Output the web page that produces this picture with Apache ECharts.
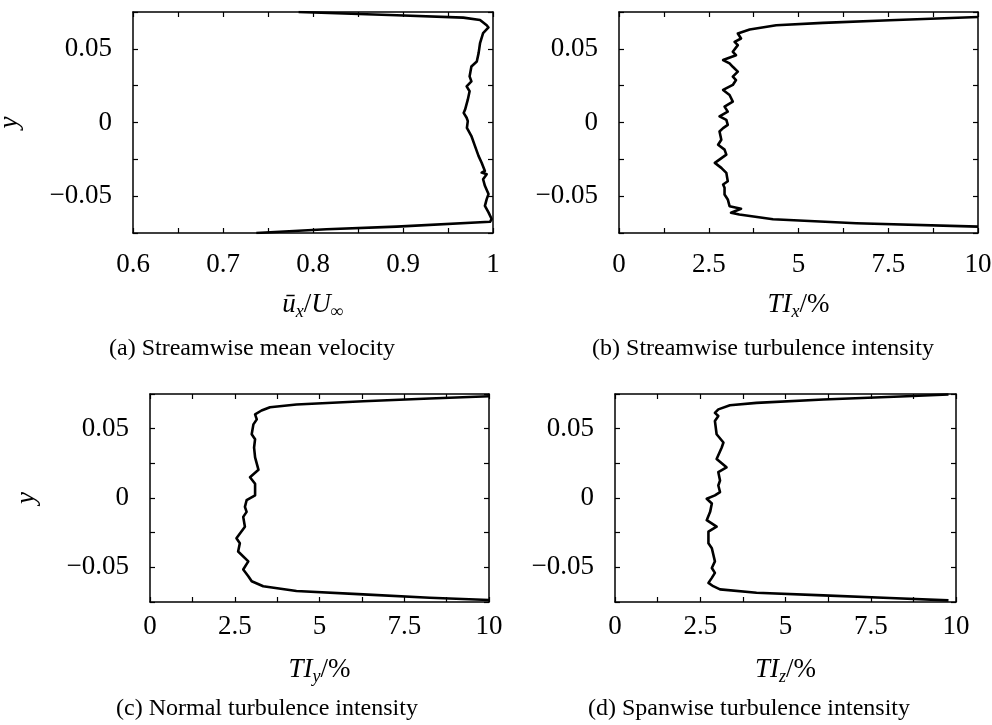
<!DOCTYPE html>
<html>
<head>
<meta charset="utf-8">
<title>Profiles</title>
<script src="https://cdn.jsdelivr.net/npm/echarts@6/dist/echarts.min.js"></script>
<style>
  html, body { margin: 0; padding: 0; background: #fff; }
  #chart { width: 992px; height: 725px; }
</style>
</head>
<body>
<div id="chart"></div>
<script>
// (a) streamwise mean velocity, read top -> bottom
var yA = [0.075, 0.0728, 0.0712, 0.0696, 0.066, 0.0645, 0.0606, 0.0538, 0.0471, 0.0414, 0.038, 0.0313, 0.0279, 0.0245, 0.0212, 0.0155, 0.0088, 0.0065, 0.0032, 0.0009, -0.0036, -0.0092, -0.016, -0.0228, -0.0273, -0.0329, -0.034, -0.0351, -0.0385, -0.043, -0.0486, -0.052, -0.0566, -0.061, -0.0655, -0.0674, -0.0707, -0.0725, -0.075]
var uA = [0.784, 0.893, 0.967, 0.9856, 0.993, 0.995, 0.989, 0.9856, 0.984, 0.982, 0.976, 0.974, 0.976, 0.9707, 0.974, 0.972, 0.969, 0.9674, 0.9707, 0.972, 0.971, 0.976, 0.98, 0.984, 0.9874, 0.991, 0.9874, 0.993, 0.989, 0.991, 0.995, 0.993, 0.991, 0.995, 0.9985, 0.9967, 0.893, 0.815, 0.737]

// (b) streamwise turbulence intensity
var yB = [0.0716, 0.0694, 0.0676, 0.066, 0.0631, 0.0604, 0.057, 0.0547, 0.0525, 0.048, 0.0457, 0.0424, 0.0401, 0.0378, 0.0345, 0.0311, 0.0288, 0.0255, 0.0221, 0.0187, 0.0142, 0.0108, 0.0074, 0.0041, 0.0018, -0.0016, -0.0038, -0.0061, -0.0117, -0.0151, -0.0184, -0.0218, -0.0274, -0.0308, -0.0342, -0.0399, -0.0421, -0.0443, -0.0489, -0.0522, -0.0568, -0.0585, -0.0612, -0.0624, -0.0657, -0.0684, -0.0707]
var tiB = [10, 7.54, 5.68, 4.38, 3.64, 3.31, 3.4, 3.22, 3.31, 3.17, 3.26, 2.9, 3.08, 3.17, 3.31, 3.17, 3.26, 3.17, 2.9, 3.08, 3.17, 2.94, 3.03, 2.8, 2.99, 3.03, 2.9, 2.8, 2.85, 2.76, 2.94, 2.99, 2.67, 2.85, 2.99, 3.03, 2.9, 2.94, 2.94, 3.03, 3.08, 3.4, 3.12, 3.35, 4.29, 6.61, 10]

// (c) normal turbulence intensity
var yC = [0.0734, 0.0717, 0.0698, 0.0674, 0.0655, 0.0631, 0.0603, 0.0567, 0.0531, 0.046, 0.0424, 0.0364, 0.0293, 0.0203, 0.015, 0.0103, 0.0019, -0.0016, -0.0064, -0.01, -0.0136, -0.0207, -0.029, -0.0326, -0.0386, -0.0457, -0.0516, -0.0564, -0.06, -0.0636, -0.0671, -0.0695, -0.0719, -0.0736]
var tiC = [10, 8.25, 6.29, 4.32, 3.54, 3.29, 3.1, 3.15, 3.05, 3.0, 3.1, 3.07, 3.1, 3.2, 2.95, 3.1, 3.1, 2.85, 2.8, 2.85, 2.75, 2.8, 2.55, 2.65, 2.6, 2.9, 2.75, 2.9, 3.0, 3.34, 4.32, 6.29, 8.25, 10]

// (d) spanwise turbulence intensity
var yD = [0.0746, 0.0734, 0.071, 0.0686, 0.0669, 0.0639, 0.0614, 0.0591, 0.0555, 0.046, 0.04, 0.0364, 0.0281, 0.0221, 0.0186, 0.0126, 0.009, 0.0043, 0.0019, -0.0005, -0.004, -0.01, -0.016, -0.0207, -0.0243, -0.0326, -0.0362, -0.0457, -0.0505, -0.054, -0.0576, -0.0612, -0.0636, -0.0659, -0.0683, -0.0702, -0.0721, -0.0738]
var tiD = [9.78, 8.55, 6.11, 4.15, 3.37, 3.03, 2.93, 3.03, 2.93, 2.98, 3.18, 3.13, 2.98, 3.27, 3.03, 3.08, 3.03, 3.08, 2.93, 2.69, 2.84, 2.79, 2.69, 2.98, 2.74, 2.74, 2.84, 2.93, 2.84, 2.93, 2.84, 2.74, 2.88, 3.08, 4.15, 6.11, 8.06, 9.78]

// tick labels
var yTickVals = [0.05, 0, -0.05]
var yTickText = ['0.05', '0', '\u22120.05']
var uTickVals = [0.6, 0.7, 0.8, 0.9, 1]
var uTickText = ['0.6', '0.7', '0.8', '0.9', '1']
var tiTickVals = [0, 2.5, 5, 7.5, 10]
var tiTickText = ['0', '2.5', '5', '7.5', '10']

var captions = ['(a) Streamwise mean velocity', '(b) Streamwise turbulence intensity', '(c) Normal turbulence intensity', '(d) Spanwise turbulence intensity']

var FONT = "'Liberation Serif', 'Times New Roman', serif"

var panels = [
  {grid: {left: 133, top: 12, width: 360, height: 221}, xs: uA, ys: yA, min: 0.6, max: 1, interval: 0.05,
    ticks: [uTickVals, uTickText], name: '{i|\u016B}{sub|x}{r|/}{i|U}{sub|\u221E}', yName: true,
    labelGap: 18, nameGap: 56, capX: 252, capY: 349},
  {grid: {left: 619, top: 12, width: 359, height: 221}, xs: tiB, ys: yB, min: 0, max: 10, interval: 1.25,
    ticks: [tiTickVals, tiTickText], name: '{i|TI}{sub|x}{r|/%}', yName: false,
    labelGap: 18, nameGap: 56, capX: 763, capY: 349},
  {grid: {left: 150, top: 394, width: 339, height: 208}, xs: tiC, ys: yC, min: 0, max: 10, interval: 1.25,
    ticks: [tiTickVals, tiTickText], name: '{i|TI}{sub|y}{r|/%}', yName: true,
    labelGap: 11, nameGap: 52, capX: 267, capY: 709},
  {grid: {left: 615, top: 394, width: 341, height: 208}, xs: tiD, ys: yD, min: 0, max: 10, interval: 1.25,
    ticks: [tiTickVals, tiTickText], name: '{i|TI}{sub|z}{r|/%}', yName: false,
    labelGap: 11, nameGap: 52, capX: 749, capY: 709}
]

function pickLabel(vals, text) {
  return function (v) {
    for (var k = 0; k < vals.length; k++) {
      if (Math.abs(v - vals[k]) < 1e-6) return text[k]
    }
    return ''
  }
}

function pairs(xs, ys) {
  var out = []
  for (var k = 0; k < xs.length; k++) out.push([xs[k], ys[k]])
  return out
}

var nameRich = {
  i: {fontFamily: FONT, fontStyle: 'italic', fontSize: 27, color: '#000', lineHeight: 32},
  r: {fontFamily: FONT, fontSize: 27, color: '#000', lineHeight: 32},
  sub: {fontFamily: FONT, fontStyle: 'italic', fontSize: 18, color: '#000', lineHeight: 18, verticalAlign: 'bottom'}
}

var lineStyle = {color: '#000', width: 1.5}
var tickStyle = {show: true, inside: true, length: 5, lineStyle: {color: '#000', width: 1.2}}

var grids = [], xAxes = [], yAxes = [], series = [], graphics = []

panels.forEach(function (p, i) {
  // keep the plot box where it is, labels may stick out
  p.grid.outerBoundsMode = 'none'
  p.grid.containLabel = false
  grids.push(p.grid)

  xAxes.push({
    gridIndex: i, type: 'value', position: 'bottom', min: p.min, max: p.max, interval: p.interval,
    axisLine: {show: true, onZero: false, lineStyle: lineStyle},
    axisTick: tickStyle,
    splitLine: {show: false},
    axisLabel: {margin: p.labelGap, color: '#000', fontFamily: FONT, fontSize: 27, formatter: pickLabel(p.ticks[0], p.ticks[1])},
    name: p.name, nameLocation: 'middle', nameGap: p.nameGap,
    nameTextStyle: {rich: nameRich}
  })
  xAxes.push({
    gridIndex: i, type: 'value', position: 'top', min: p.min, max: p.max, interval: p.interval,
    axisLine: {show: true, onZero: false, lineStyle: lineStyle},
    axisTick: tickStyle,
    splitLine: {show: false},
    axisLabel: {show: false}
  })

  var yLeft = {
    gridIndex: i, type: 'value', position: 'left', min: -0.075, max: 0.075, interval: 0.025,
    axisLine: {show: true, onZero: false, lineStyle: lineStyle},
    axisTick: tickStyle,
    splitLine: {show: false},
    axisLabel: {margin: 21, color: '#000', fontFamily: FONT, fontSize: 27, formatter: pickLabel(yTickVals, yTickText)}
  }
  if (p.yName) {
    yLeft.name = 'y'
    yLeft.nameLocation = 'middle'
    yLeft.nameGap = 110
    yLeft.nameRotate = 90
    yLeft.nameTextStyle = {fontFamily: FONT, fontStyle: 'italic', fontSize: 27, color: '#000'}
  }
  yAxes.push(yLeft)
  yAxes.push({
    gridIndex: i, type: 'value', position: 'right', min: -0.075, max: 0.075, interval: 0.025,
    axisLine: {show: true, onZero: false, lineStyle: lineStyle},
    axisTick: tickStyle,
    splitLine: {show: false},
    axisLabel: {show: false}
  })

  series.push({
    type: 'line', xAxisIndex: 2 * i, yAxisIndex: 2 * i,
    data: pairs(p.xs, p.ys),
    showSymbol: false, symbol: 'none', silent: true,
    lineStyle: {color: '#000', width: 2.6, join: 'round'}
  })

  graphics.push({
    type: 'text', x: p.capX, y: p.capY,
    style: {text: captions[i], fill: '#000', fontFamily: FONT, fontSize: 24, align: 'center', verticalAlign: 'middle'}
  })
})

var myChart = echarts.init(document.getElementById('chart'))
myChart.setOption({
  animation: false,
  backgroundColor: '#fff',
  grid: grids,
  xAxis: xAxes,
  yAxis: yAxes,
  series: series,
  graphic: graphics
})
</script>
</body>
</html>
